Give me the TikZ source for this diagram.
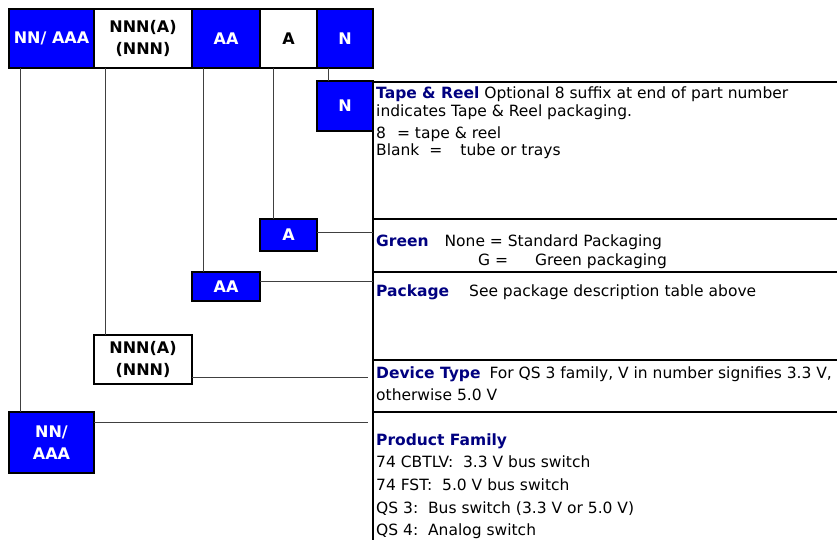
\documentclass[tikz,border=0pt]{standalone}
\usepackage{fontspec}
\setmainfont{DejaVu Sans}
\usepackage{tikz}
\definecolor{partblue}{RGB}{0,0,255}
\definecolor{headblue}{RGB}{0,0,128}
\newcommand{\hd}[1]{\textcolor{headblue}{\bfseries #1}}

\begin{document}
\begin{tikzpicture}[x=1pt,y=-1pt,
    field/.style={draw, line width=2pt, inner sep=0pt, outer sep=0pt, align=center,
      font=\fontsize{16}{21.5}\selectfont\bfseries},
    bluefield/.style={field, fill=partblue, text=white},
    whitefield/.style={field, fill=white, text=black},
    lead/.style={line width=1pt, black!75},
    rule/.style={line width=2pt},
    txt/.style={anchor=base west, inner sep=0pt, font=\fontsize{15.5}{18}\selectfont}]
    \useasboundingbox (0,0) rectangle (837,540);
    \begin{scope}
      \node[bluefield, minimum width=85, minimum height=59] (fam) at (51.5,38.5) {NN/ AAA};
      \node[whitefield, minimum width=98, minimum height=59] (dev) at (143,38.5) {NNN(A)\\(NNN)};
      \node[bluefield, minimum width=68, minimum height=59] (pkg) at (226,38.5) {AA};
      \node[whitefield, minimum width=57, minimum height=59] (grn) at (288.5,38.5) {A};
      \node[bluefield, minimum width=56, minimum height=59] (tr) at (345,38.5) {N};
    \end{scope}
    \begin{scope}
      \node[bluefield, minimum width=56, minimum height=50] (trL) at (345,106) {N};
      \node[bluefield, minimum width=57, minimum height=32] (grnL) at (288.5,235) {A};
      \node[bluefield, minimum width=68, minimum height=29] (pkgL) at (226,286.5) {AA};
      \node[whitefield, minimum width=98, minimum height=49] (devL) at (143,359.5) {NNN(A)\\(NNN)};
      \node[bluefield, minimum width=85, minimum height=61] (famL) at (51.5,442.5) {NN/\\AAA};
    \end{scope}
    \foreach \t/\l/\d in {tr/trL/11, grn/grnL/13, pkg/pkgL/11, dev/devL/11, fam/famL/11}
    {
      \path ([xshift=\d pt]\t.south west) coordinate (p);
      \draw[lead] (p) -- (p |- \l.north);
    }
    \foreach \y in {82,219,272,360,412}
    {
      \draw[rule] (373,\y) -- (837,\y);
    }
    \draw[rule] (373,82) -- (373,540);
    \coordinate (tbl) at (373,0);
    \coordinate (gap) at (368,0);
    \draw[lead] ([yshift=3pt]grnL.east) -- ([yshift=3pt]grnL.east -| tbl);
    \draw[lead] ([yshift=5.5pt]pkgL.east) -- ([yshift=5.5pt]pkgL.east -| tbl);
    \draw[lead] ([yshift=-17.5pt]devL.east) -- ([yshift=-17.5pt]devL.east -| gap);
    \draw[lead] ([yshift=20.5pt]famL.east) -- ([yshift=20.5pt]famL.east -| gap);
    \node[txt] (trA) at (376,98.5) {\hd{Tape \& Reel} Optional 8 suffix at end of part number};
    \node[txt] (trB) at (376,117) {indicates Tape \& Reel packaging.};
    \node[txt] (trC) at (376,138.5) {8\hspace{11pt}= tape \& reel};
    \node[txt] (trD) at (376,156) {Blank\hspace{10pt}=\hspace{18pt}tube or trays};
    \node[txt] (grnA) at (376,246.5) {\hd{Green}\hspace{16pt}None = Standard Packaging};
    \node[txt] (grnB) at (478,265) {G =\hspace{27pt}Green packaging};
    \node[txt] (pkgA) at (376,296.5) {\hd{Package}\hspace{20pt}See package description table above};
    \node[txt] (devA) at (376,378) {\hd{Device Type}\hspace{9pt}For QS 3 family, V in number signifies 3.3 V,};
    \node[txt] (devB) at (376,400.5) {otherwise 5.0 V};
    \node[txt] (famA) at (376,445) {\hd{Product Family}};
    \node[txt] (famB) at (376,467.5) {74 CBTLV:\ \ 3.3 V bus switch};
    \node[txt] (famC) at (376,490.5) {74 FST:\ \ 5.0 V bus switch};
    \node[txt] (famD) at (376,513.5) {QS 3:\ \ Bus switch (3.3 V or 5.0 V)};
    \node[txt] (famE) at (376,535.5) {QS 4:\ \ Analog switch};
\end{tikzpicture}
\end{document}
